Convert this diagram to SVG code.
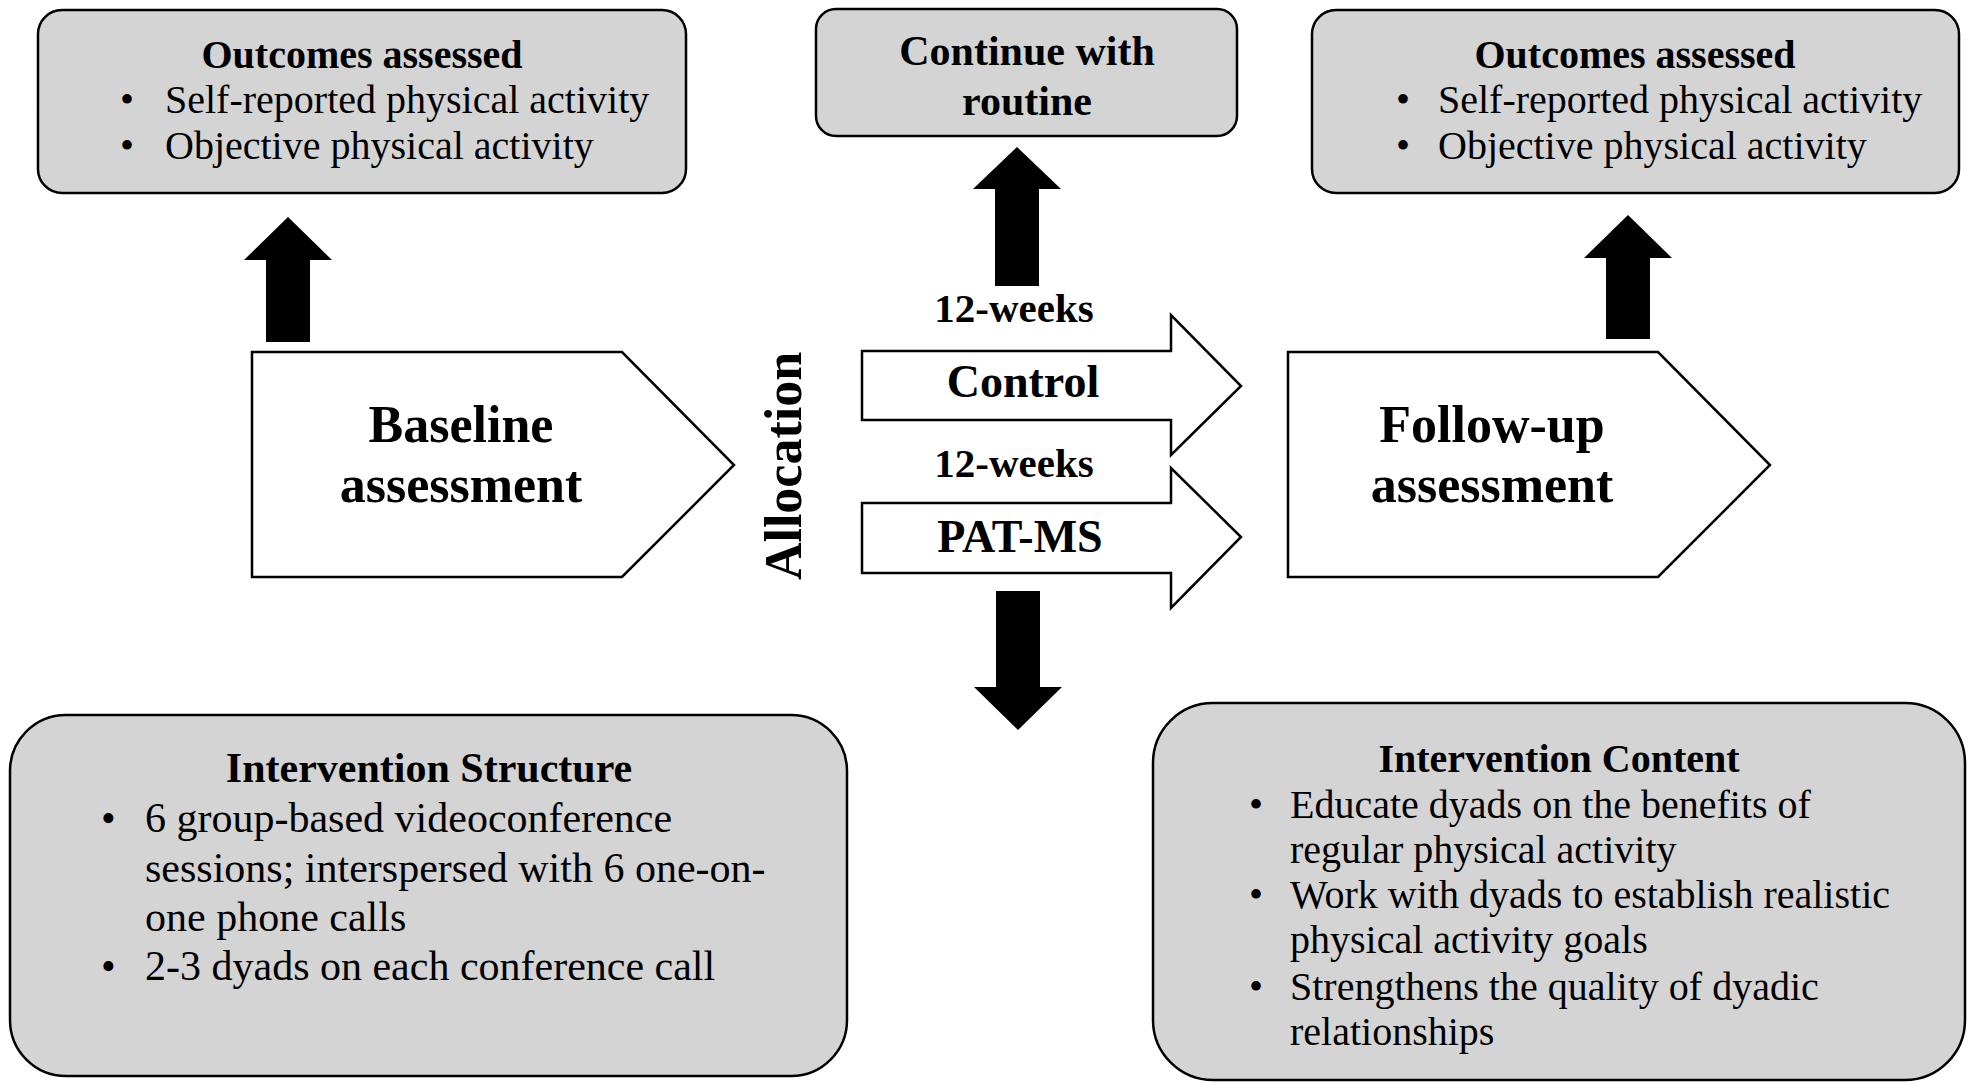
<svg xmlns="http://www.w3.org/2000/svg" width="1973" height="1084" viewBox="0 0 1973 1084">
<style>
.box{fill:#d4d4d4;stroke:#000;stroke-width:2.5}
.shape{fill:#fff;stroke:#000;stroke-width:2.5}
.blk{fill:#000;stroke:none}
text{font-family:"Liberation Serif","Times New Roman",serif;fill:#000}
.b{font-weight:bold}
.c{text-anchor:middle}
</style>
<rect width="1973" height="1084" fill="#fff"/>
<g id="outcomes-baseline">
<rect class="box" x="38" y="10" width="648" height="183" rx="24"/>
<text class="b c" x="362" y="68" font-size="40">Outcomes assessed</text>
<text x="120" y="113" font-size="40">•</text>
<text x="165" y="113" font-size="40">Self-reported physical activity</text>
<text x="120" y="159" font-size="40">•</text>
<text x="165" y="159" font-size="40">Objective physical activity</text>
</g>
<g id="continue-routine">
<rect class="box" x="816" y="9" width="421" height="127" rx="20"/>
<text class="b c" x="1027" y="65" font-size="42">Continue with</text>
<text class="b c" x="1027" y="115" font-size="42">routine</text>
</g>
<g id="outcomes-followup">
<rect class="box" x="1312" y="10" width="647" height="183" rx="24"/>
<text class="b c" x="1635" y="68" font-size="40">Outcomes assessed</text>
<text x="1396" y="113" font-size="40">•</text>
<text x="1438" y="113" font-size="40">Self-reported physical activity</text>
<text x="1396" y="159" font-size="40">•</text>
<text x="1438" y="159" font-size="40">Objective physical activity</text>
</g>
<g id="baseline">
<polygon class="shape" points="252,352 622,352 734,465 622,577 252,577"/>
<text class="b c" x="461" y="442" font-size="52">Baseline</text>
<text class="b c" x="461" y="502" font-size="52">assessment</text>
</g>
<g id="allocation">
<text class="b c" x="801" y="466" font-size="52" transform="rotate(-90 801 466)">Allocation</text>
</g>
<g id="control">
<polygon class="shape" points="862,351 1171,351 1171,315 1241,386 1171,455 1171,420 862,420"/>
<text class="b c" x="1014" y="322" font-size="41">12-weeks</text>
<text class="b c" x="1023" y="397" font-size="46">Control</text>
</g>
<g id="pat-ms">
<polygon class="shape" points="862,503 1171,503 1171,468 1241,537 1171,608 1171,573 862,573"/>
<text class="b c" x="1014" y="477" font-size="41">12-weeks</text>
<text class="b c" x="1020" y="552" font-size="46">PAT-MS</text>
</g>
<g id="followup">
<polygon class="shape" points="1288,352 1658,352 1770,465 1658,577 1288,577"/>
<text class="b c" x="1492" y="442" font-size="52">Follow-up</text>
<text class="b c" x="1492" y="502" font-size="52">assessment</text>
</g>
<g id="intervention-structure">
<rect class="box" x="10" y="715" width="837" height="361" rx="56"/>
<text class="b c" x="429" y="782" font-size="42">Intervention Structure</text>
<text x="101" y="832" font-size="42">•</text>
<text x="145" y="832" font-size="42">6 group-based videoconference</text>
<text x="145" y="882" font-size="42">sessions; interspersed with 6 one-on-</text>
<text x="145" y="931" font-size="42">one phone calls</text>
<text x="101" y="980" font-size="42">•</text>
<text x="145" y="980" font-size="42">2-3 dyads on each conference call</text>
</g>
<g id="intervention-content">
<rect class="box" x="1153" y="703" width="812" height="377" rx="60"/>
<text class="b c" x="1559" y="772" font-size="40">Intervention Content</text>
<text x="1249" y="818" font-size="40">•</text>
<text x="1290" y="818" font-size="40">Educate dyads on the benefits of</text>
<text x="1290" y="863" font-size="40">regular physical activity</text>
<text x="1249" y="908" font-size="40">•</text>
<text x="1290" y="908" font-size="40">Work with dyads to establish realistic</text>
<text x="1290" y="953" font-size="40">physical activity goals</text>
<text x="1249" y="1000" font-size="40">•</text>
<text x="1290" y="1000" font-size="40">Strengthens the quality of dyadic</text>
<text x="1290" y="1045" font-size="40">relationships</text>
</g>
<g id="connectors">
<polygon class="blk" points="288,217 332,260 310,260 310,342 266,342 266,260 244,260"/>
<polygon class="blk" points="1017,147 1061,189 1039,189 1039,286 995,286 995,189 973,189"/>
<polygon class="blk" points="1628,215 1672,258 1650,258 1650,339 1606,339 1606,258 1584,258"/>
<polygon class="blk" points="996,591 1040,591 1040,687 1062,687 1018,730 974,687 996,687"/>
</g>
</svg>
